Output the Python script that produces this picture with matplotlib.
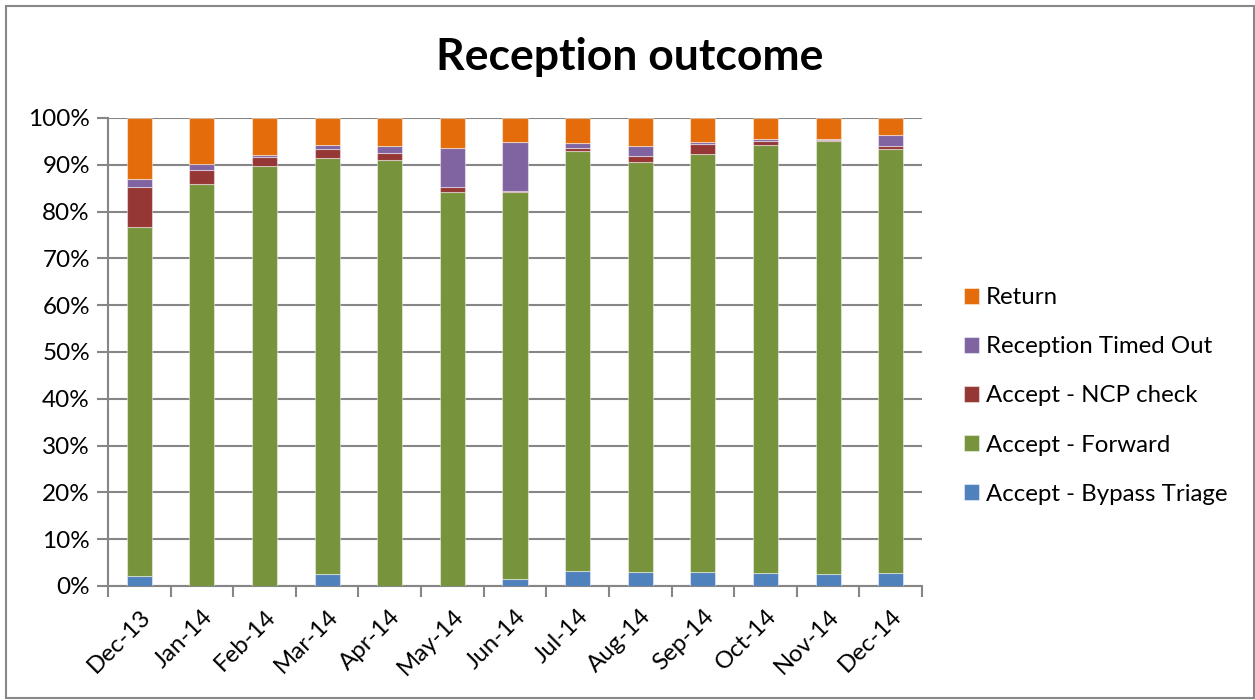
import matplotlib
matplotlib.use("Agg")
import matplotlib.pyplot as plt
from matplotlib.patches import Rectangle
from matplotlib.ticker import PercentFormatter, FixedLocator
import numpy as np

plt.rcParams['font.family'] = ['Lato', 'DejaVu Sans']

months = ["Dec-13", "Jan-14", "Feb-14", "Mar-14", "Apr-14", "May-14", "Jun-14",
          "Jul-14", "Aug-14", "Sep-14", "Oct-14", "Nov-14", "Dec-14"]
bypass_triage = [2.2, 0.0, 0.0, 2.6, 0.0, 0.0, 1.6, 3.2, 2.9, 2.9, 2.7, 2.6, 2.7]
forward =       [74.6, 85.9, 89.8, 88.9, 91.1, 84.1, 82.5, 89.8, 87.7, 89.4, 91.5, 92.5, 90.7]
ncp_check =     [8.4, 2.9, 1.9, 1.8, 1.4, 1.1, 0.3, 0.5, 1.3, 2.1, 0.9, 0.3, 0.6]
timed_out =     [1.8, 1.4, 0.4, 0.9, 1.5, 8.3, 10.5, 1.1, 2.1, 0.5, 0.4, 0.1, 2.3]
returned =      [13.0, 9.8, 7.9, 5.8, 6.0, 6.5, 5.1, 5.4, 6.0, 5.1, 4.5, 4.5, 3.7]

series = [
    ("Accept - Bypass Triage", bypass_triage, "#4F81BD"),
    ("Accept - Forward", forward, "#77933C"),
    ("Accept - NCP check", ncp_check, "#953735"),
    ("Reception Timed Out", timed_out, "#8064A2"),
    ("Return", returned, "#E46C0A"),
]

fig = plt.figure(figsize=(12.55, 7.0), dpi=100)
ax = fig.add_axes([108/1255, 114/700, (922-108)/1255, (586-118)/700])

x = np.arange(len(months))
bottom = np.zeros(len(months))
handles = []
for name, vals, col in series:
    v = np.array(vals)
    b = ax.bar(x, v, 0.4, bottom=bottom, color=col, edgecolor=(1, 1, 1, 0.45),
               linewidth=0.8, label=name, zorder=3)
    handles.append(b)
    bottom += v

grid_c = "#868686"
ax.set_xlim(-0.5, len(months) - 0.5)
ax.set_ylim(0, 100)
ax.yaxis.set_major_locator(FixedLocator(np.arange(0, 101, 10)))
ax.yaxis.set_major_formatter(PercentFormatter(100, decimals=0))
ax.grid(axis='y', color=grid_c, linewidth=1.5, zorder=0)
for s in ['top', 'right']:
    ax.spines[s].set_visible(False)
for s in ['left', 'bottom']:
    ax.spines[s].set_color(grid_c)
    ax.spines[s].set_linewidth(1.5)

ax.set_xticks(x)
ax.set_xticklabels(months, rotation=45, ha='right', va='top', rotation_mode='anchor',
                   fontsize=17.3)
ax.tick_params(axis='x', length=0, pad=14)
ax.set_xticks(np.arange(-0.5, len(months)), minor=True)
ax.tick_params(axis='x', which='minor', length=8, width=1.5, color=grid_c)
ax.tick_params(axis='y', length=8, width=1.5, color=grid_c, labelsize=17.5, pad=5)

fig.text(630/1255, 1 - 57/700, "Reception outcome", ha='center', va='center',
         fontsize=32, fontweight='bold')

leg = fig.legend(handles[::-1], [s[0] for s in series][::-1],
                 loc='center left', bbox_to_anchor=(942/1255, 1 - 396/700),
                 frameon=False, fontsize=17.3, handlelength=0.62, handleheight=0.62,
                 handletextpad=0.3, labelspacing=1.17)

fig.add_artist(Rectangle((6/1255, 2/700), 1248/1255, 692/700, transform=fig.transFigure,
                         fill=False, edgecolor="#888888", linewidth=1.5))

fig.savefig("out.png", dpi=100)
